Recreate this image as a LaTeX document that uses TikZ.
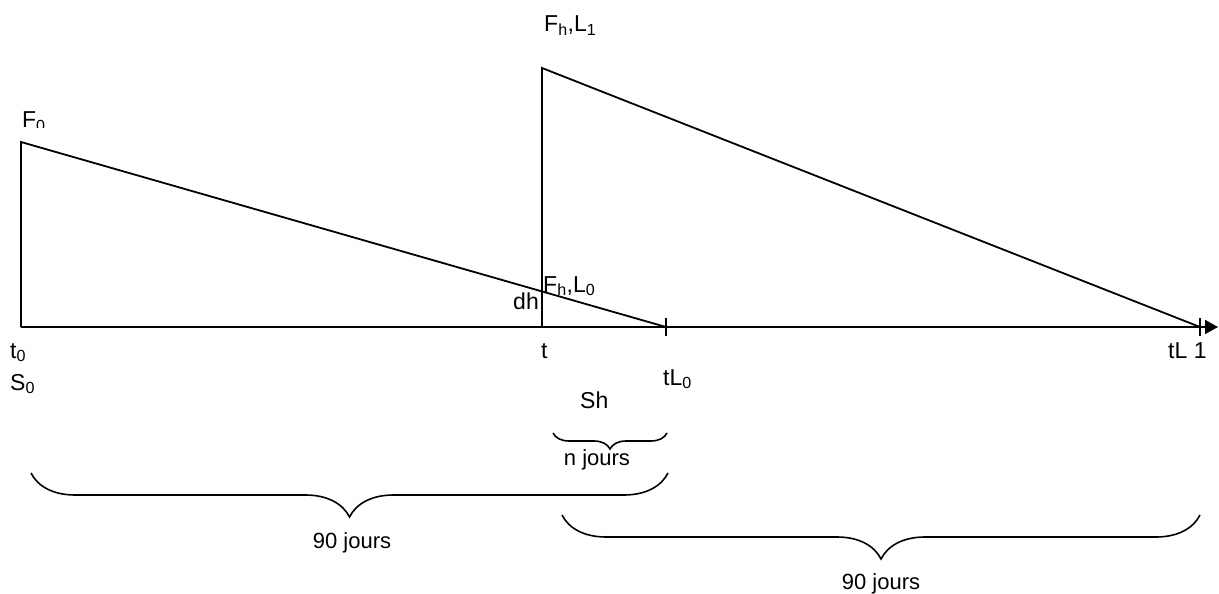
\documentclass[tikz,border=0pt]{standalone}
\usepackage{fontspec}
\setmainfont{Liberation Sans}
\usetikzlibrary{arrows.meta,decorations.pathreplacing}

\tikzset{
  trait/.style={line width=1.8pt, black},
  lbl/.style={inner sep=0pt, font=\fontsize{23}{26}\selectfont},
  jrs/.style={inner sep=0pt, font=\fontsize{22}{25}\selectfont},
  accolade/.style={line width=1.6pt, decorate,
    decoration={brace, mirror, amplitude=#1}},
}

\begin{document}
\begin{tikzpicture}[x=1pt, y=-1pt, >={Triangle[length=13pt,width=14pt]}]
    \useasboundingbox (0,0) rectangle (1219,594);

    % 1. Points de l'axe des temps
    \coordinate (t0)  at (21,327);
    \coordinate (t)   at (542,327);
    \coordinate (tL0) at (666,327);
    \coordinate (tL1) at (1200,327);
    \coordinate (fin) at (1218,327);
    \coordinate (F0)  at (21,142);
    \coordinate (Fh1) at (542,68);

    % 2. Axe horizontal et graduations
    \draw[trait, ->] (t0) -- (fin);
    \draw[trait] ([yshift=-9pt]tL0) -- ([yshift=9pt]tL0);
    \draw[trait] ([yshift=-9pt]tL1) -- ([yshift=9pt]tL1);

    % 3. Les deux dents de scie
    \draw[trait] (t0) -- (F0) -- (tL0);
    \draw[trait] (t) -- (Fh1) -- (tL1);

    % 4. Etiquettes
    \begin{scope}
        \clip (0,0) rectangle (120,127);
        \node[lbl, anchor=base west] (lF0) at (22,128) {F\textsubscript{0}};
    \end{scope}
    \node[lbl, anchor=base west] (lFh1) at (544,32) {F\textsubscript{h},L\textsubscript{1}};
    \node[lbl, anchor=base west] (lFh0) at (543,292) {F\textsubscript{h},L\textsubscript{0}};
    \node[lbl, anchor=base east] (ldh) at (539,309) {dh};
    \node[lbl, anchor=base west] (lt0) at (10,358) {t\textsubscript{0}};
    \node[lbl, anchor=base west] (lS0) at (10,390) {S\textsubscript{0}};
    \node[lbl, anchor=base west] (lt) at (541,358) {t};
    \node[lbl, anchor=base west] (ltL0) at (663,385) {tL\textsubscript{0}};
    \node[lbl, anchor=base west] (lSh) at (580,408) {Sh};
    \node[lbl, anchor=base west] (ltL1) at (1168,358) {tL 1};

    % 5. Accolades
    \coordinate (a1) at (553,433);
    \coordinate (a2) at (667,433);
    \coordinate (b1) at (31,473);
    \coordinate (b2) at (668,473);
    \coordinate (c1) at (562,515);
    \coordinate (c2) at (1200,515);
    \draw[accolade=16pt] (a1) -- (a2);
    \draw[accolade=44pt] (b1) -- (b2);
    \draw[accolade=44pt] (c1) -- (c2);
    \node[jrs, anchor=base] (ln) at (597,465) {n jours};
    \node[jrs, anchor=base] (l90a) at (352,548) {90 jours};
    \node[jrs, anchor=base] (l90b) at (881,589) {90 jours};
\end{tikzpicture}
\end{document}
